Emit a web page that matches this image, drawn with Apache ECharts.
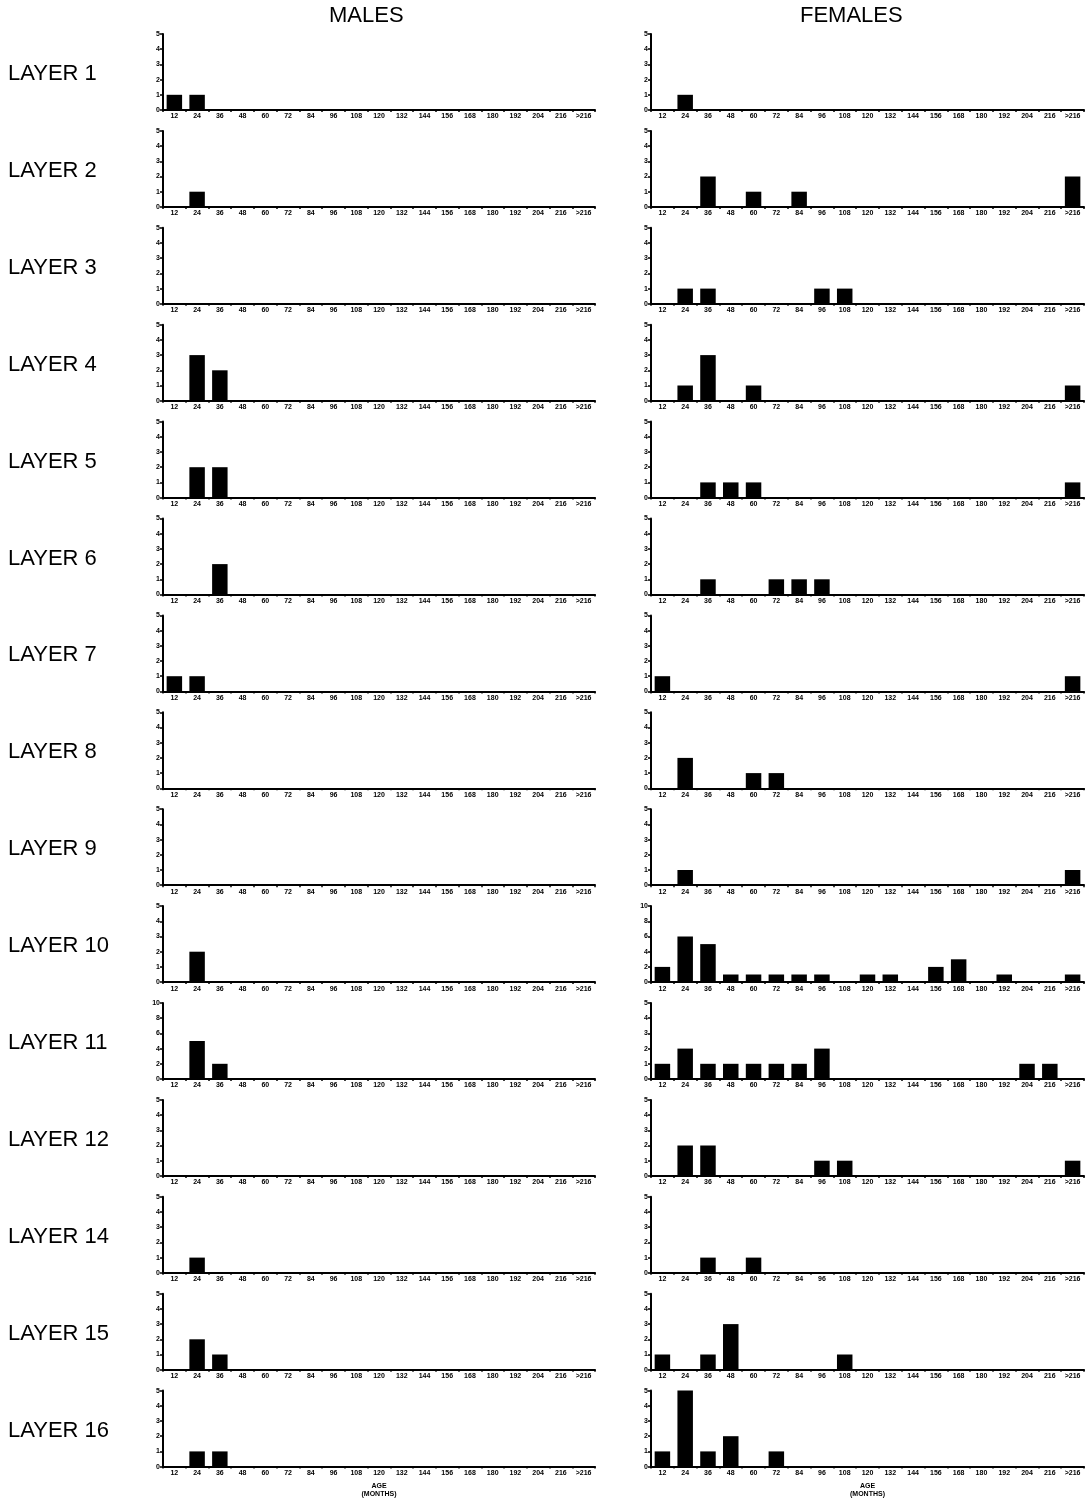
<!DOCTYPE html>
<html>
<head>
<meta charset="utf-8">
<script src="https://cdn.jsdelivr.net/npm/echarts@6/dist/echarts.min.js"></script>
<style>
  html, body { margin: 0; padding: 0; background: #fff; }
  #chart { width: 1086px; height: 1502px; }
</style>
</head>
<body>
<div id="chart"></div>
<script>
// Age classes (months)
const ageClasses = ['12','24','36','48','60','72','84','96','108','120','132','144','156','168','180','192','204','216','>216'];

const layerNames = ['LAYER 1','LAYER 2','LAYER 3','LAYER 4','LAYER 5','LAYER 6','LAYER 7','LAYER 8',
                    'LAYER 9','LAYER 10','LAYER 11','LAYER 12','LAYER 14','LAYER 15','LAYER 16'];

// Counts per age class, males
const maleL1  = [1,1,0,0,0,0,0,0,0,0,0,0,0,0,0,0,0,0,0];
const maleL2  = [0,1,0,0,0,0,0,0,0,0,0,0,0,0,0,0,0,0,0];
const maleL3  = [0,0,0,0,0,0,0,0,0,0,0,0,0,0,0,0,0,0,0];
const maleL4  = [0,3,2,0,0,0,0,0,0,0,0,0,0,0,0,0,0,0,0];
const maleL5  = [0,2,2,0,0,0,0,0,0,0,0,0,0,0,0,0,0,0,0];
const maleL6  = [0,0,2,0,0,0,0,0,0,0,0,0,0,0,0,0,0,0,0];
const maleL7  = [1,1,0,0,0,0,0,0,0,0,0,0,0,0,0,0,0,0,0];
const maleL8  = [0,0,0,0,0,0,0,0,0,0,0,0,0,0,0,0,0,0,0];
const maleL9  = [0,0,0,0,0,0,0,0,0,0,0,0,0,0,0,0,0,0,0];
const maleL10 = [0,2,0,0,0,0,0,0,0,0,0,0,0,0,0,0,0,0,0];
const maleL11 = [0,5,2,0,0,0,0,0,0,0,0,0,0,0,0,0,0,0,0];
const maleL12 = [0,0,0,0,0,0,0,0,0,0,0,0,0,0,0,0,0,0,0];
const maleL14 = [0,1,0,0,0,0,0,0,0,0,0,0,0,0,0,0,0,0,0];
const maleL15 = [0,2,1,0,0,0,0,0,0,0,0,0,0,0,0,0,0,0,0];
const maleL16 = [0,1,1,0,0,0,0,0,0,0,0,0,0,0,0,0,0,0,0];

// Counts per age class, females
const femaleL1  = [0,1,0,0,0,0,0,0,0,0,0,0,0,0,0,0,0,0,0];
const femaleL2  = [0,0,2,0,1,0,1,0,0,0,0,0,0,0,0,0,0,0,2];
const femaleL3  = [0,1,1,0,0,0,0,1,1,0,0,0,0,0,0,0,0,0,0];
const femaleL4  = [0,1,3,0,1,0,0,0,0,0,0,0,0,0,0,0,0,0,1];
const femaleL5  = [0,0,1,1,1,0,0,0,0,0,0,0,0,0,0,0,0,0,1];
const femaleL6  = [0,0,1,0,0,1,1,1,0,0,0,0,0,0,0,0,0,0,0];
const femaleL7  = [1,0,0,0,0,0,0,0,0,0,0,0,0,0,0,0,0,0,1];
const femaleL8  = [0,2,0,0,1,1,0,0,0,0,0,0,0,0,0,0,0,0,0];
const femaleL9  = [0,1,0,0,0,0,0,0,0,0,0,0,0,0,0,0,0,0,1];
const femaleL10 = [2,6,5,1,1,1,1,1,0,1,1,0,2,3,0,1,0,0,1];
const femaleL11 = [1,2,1,1,1,1,1,2,0,0,0,0,0,0,0,0,1,1,0];
const femaleL12 = [0,2,2,0,0,0,0,1,1,0,0,0,0,0,0,0,0,0,1];
const femaleL14 = [0,0,1,0,1,0,0,0,0,0,0,0,0,0,0,0,0,0,0];
const femaleL15 = [1,0,1,3,0,0,0,0,1,0,0,0,0,0,0,0,0,0,0];
const femaleL16 = [1,5,1,2,0,1,0,0,0,0,0,0,0,0,0,0,0,0,0];

// Y-axis top value per panel
const maleYMax   = [5,5,5,5,5,5,5,5,5,5,10,5,5,5,5];
const femaleYMax = [5,5,5,5,5,5,5,5,5,10,5,5,5,5,5];

const maleCounts = [maleL1,maleL2,maleL3,maleL4,maleL5,maleL6,maleL7,maleL8,maleL9,maleL10,maleL11,maleL12,maleL14,maleL15,maleL16];
const femaleCounts = [femaleL1,femaleL2,femaleL3,femaleL4,femaleL5,femaleL6,femaleL7,femaleL8,femaleL9,femaleL10,femaleL11,femaleL12,femaleL14,femaleL15,femaleL16];

// Panel geometry
const FIRST_BASE = 110, ROW_STEP = 96.9, PLOT_H = 76;
const COLS = [{ left: 163, width: 432 }, { left: 651, width: 433 }];
const FONT = '"Liberation Sans", Arial, sans-serif';

const grids = [], xAxes = [], yAxes = [], series = [], texts = [];

layerNames.forEach((name, r) => {
  const base = FIRST_BASE + r * ROW_STEP;
  const isLast = r === layerNames.length - 1;
  [maleCounts[r], femaleCounts[r]].forEach((vals, c) => {
    const idx = grids.length;
    const yMax = c === 0 ? maleYMax[r] : femaleYMax[r];
    grids.push({ left: COLS[c].left, top: base - PLOT_H, width: COLS[c].width, height: PLOT_H, containLabel: false });
    xAxes.push({
      type: 'category', gridIndex: idx, data: ageClasses,
      axisLine: { lineStyle: { color: '#000', width: 2 } },
      axisTick: { show: true, length: 2, lineStyle: { color: '#000', width: 1.5 } },
      axisLabel: { interval: 0, fontSize: 7, fontWeight: 'bold', color: '#000', margin: 3, fontFamily: FONT },
      name: isLast ? 'AGE\n(MONTHS)' : '',
      nameLocation: 'middle', nameGap: 15,
      nameTextStyle: { fontSize: 7, fontWeight: 'bold', color: '#000', fontFamily: FONT, lineHeight: 8 }
    });
    yAxes.push({
      type: 'value', gridIndex: idx, min: 0, max: yMax, interval: yMax === 10 ? 2 : 1,
      axisLine: { show: true, lineStyle: { color: '#000', width: 2 } },
      axisTick: { show: true, length: 3, lineStyle: { color: '#000', width: 1.5 } },
      splitLine: { show: false },
      axisLabel: { fontSize: 7, fontWeight: 'bold', color: '#000', margin: 3, fontFamily: FONT }
    });
    series.push({
      type: 'bar', xAxisIndex: idx, yAxisIndex: idx, data: vals,
      barCategoryGap: '32%', itemStyle: { color: '#000' }, silent: true, animation: false
    });
  });
  texts.push({
    type: 'text', left: 8, top: base - 35 - 12,
    style: { text: name, fontSize: 22, fontFamily: FONT, fill: '#000' }
  });
});

texts.push({ type: 'text', left: 329, top: 5, style: { text: 'MALES', fontSize: 22, fontFamily: FONT, fill: '#000' } });
texts.push({ type: 'text', left: 800, top: 5, style: { text: 'FEMALES', fontSize: 22, fontFamily: FONT, fill: '#000' } });

const chart = echarts.init(document.getElementById('chart'), null, { renderer: 'canvas' });
chart.setOption({
  animation: false,
  backgroundColor: '#fff',
  grid: grids, xAxis: xAxes, yAxis: yAxes, series: series,
  graphic: texts
});
</script>
</body>
</html>
